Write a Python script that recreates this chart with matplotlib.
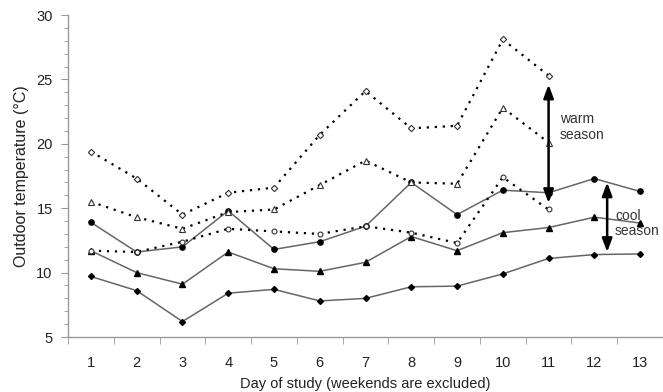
import matplotlib
matplotlib.use("Agg")
import matplotlib.pyplot as plt
from matplotlib.ticker import MultipleLocator, FixedLocator

plt.rcParams['font.family'] = ['Liberation Sans', 'DejaVu Sans']

days = list(range(1, 14))
days_warm = list(range(1, 12))

warm_diamond = [19.4, 17.3, 14.5, 16.2, 16.6, 20.7, 24.1, 21.2, 21.4, 28.1, 25.3]
warm_triangle = [15.5, 14.3, 13.4, 14.7, 14.9, 16.8, 18.7, 17.0, 16.9, 22.8, 20.1]
warm_circle = [11.7, 11.6, 12.4, 13.4, 13.2, 13.0, 13.6, 13.1, 12.3, 17.4, 14.9]

cool_circle = [13.9, 11.6, 12.0, 14.8, 11.8, 12.4, 13.6, 17.0, 14.5, 16.4, 16.2, 17.3, 16.3]
cool_triangle = [11.7, 10.0, 9.1, 11.6, 10.3, 10.1, 10.8, 12.8, 11.7, 13.1, 13.5, 14.3, 13.85]
cool_diamond = [9.7, 8.6, 6.2, 8.4, 8.7, 7.8, 8.0, 8.9, 8.95, 9.9, 11.1, 11.4, 11.45]

warm_arrow = (11, 15.4, 24.6)
cool_arrow = (12.28, 11.6, 17.0)

fig = plt.figure(figsize=(6.63, 3.92), dpi=100)
ax = fig.add_axes([0.1026, 0.1403, 0.8974, 0.8214])

grey = '#666666'
dot = (0, (1.0, 2.6))

ax.plot(days, cool_diamond, color=grey, lw=1.1, marker='D', ms=3.0, mfc='black', mec='black', zorder=3)
ax.plot(days, cool_triangle, color=grey, lw=1.1, marker='^', ms=4.0, mfc='black', mec='black', zorder=3)
ax.plot(days, cool_circle, color=grey, lw=1.1, marker='o', ms=3.8, mfc='black', mec='black', zorder=3)

ax.plot(days_warm, warm_circle, color='black', lw=1.6, ls=dot, marker='o', ms=3.5, mfc='white', mec='#333333', mew=0.8, zorder=4)
ax.plot(days_warm, warm_triangle, color='black', lw=1.6, ls=dot, marker='^', ms=4.5, mfc='white', mec='#333333', mew=0.8, zorder=4)
ax.plot(days_warm, warm_diamond, color='black', lw=1.6, ls=dot, marker='D', ms=3.2, mfc='white', mec='#333333', mew=0.8, zorder=4)

for (xa, y0, y1) in [warm_arrow, cool_arrow]:
    ax.annotate('', xy=(xa, y1), xytext=(xa, y0),
                arrowprops=dict(arrowstyle='<|-|>,head_length=0.8,head_width=0.3', color='black', lw=1.8,
                                mutation_scale=10, shrinkA=0, shrinkB=0), zorder=5)

ax.text(11.25, 21.3, 'warm\nseason', fontsize=10, color='#333333', va='center', ha='left', linespacing=1.15)
ax.text(12.45, 13.8, 'cool\nseason', fontsize=10, color='#333333', va='center', ha='left', linespacing=1.15)

ax.set_xlim(0.5, 13.5)
ax.set_ylim(5, 30)
ax.xaxis.set_major_locator(FixedLocator(days))
ax.xaxis.set_minor_locator(FixedLocator([d + 0.5 for d in range(0, 14)]))
ax.yaxis.set_major_locator(MultipleLocator(5))
ax.yaxis.set_minor_locator(MultipleLocator(1))

for s in ['top', 'right']:
    ax.spines[s].set_visible(False)
for s in ['left', 'bottom']:
    ax.spines[s].set_color('#999999')
    ax.spines[s].set_linewidth(1.0)

ax.tick_params(axis='x', which='major', length=0, pad=14, labelsize=10.5, labelcolor='#222222')
ax.tick_params(axis='x', which='minor', length=5, color='#999999', direction='out')
ax.tick_params(axis='y', which='major', length=5, color='#999999', pad=6, labelsize=10.5, labelcolor='#222222')
ax.tick_params(axis='y', which='minor', length=3, color='#999999')

ax.set_xlabel('Day of study (weekends are excluded)', fontsize=10.5, color='#222222', labelpad=5)
ax.set_ylabel('Outdoor temperature (°C)', fontsize=11.5, color='#222222', labelpad=5)

fig.savefig('out.png', dpi=100)
